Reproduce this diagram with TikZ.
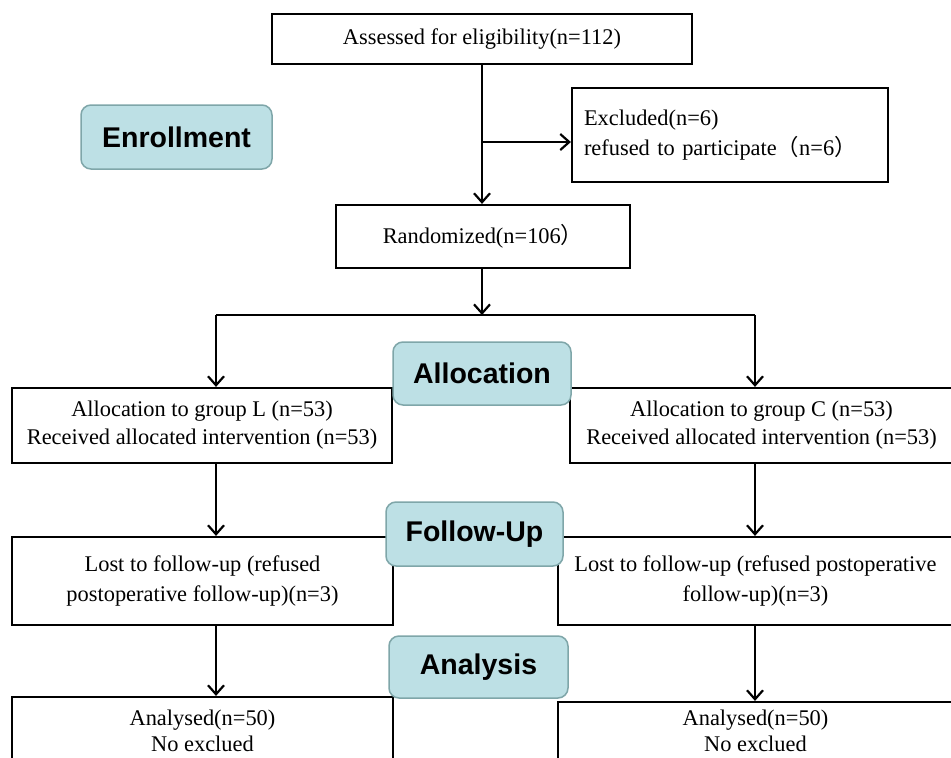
\documentclass[tikz,border=0pt]{standalone}
\usepackage{fontspec}
\setmainfont{Liberation Serif}
\newfontfamily\lsans{Liberation Sans}
\newfontfamily\cjk{Noto Sans CJK SC}
\usetikzlibrary{arrows.meta}
\definecolor{phasefill}{HTML}{BDE0E5}
\definecolor{phaseborder}{HTML}{7FA6A9}
\newcommand{\lp}{{\cjk （}}
\newcommand{\rp}{{\cjk ）}}
\begin{document}
\begin{tikzpicture}[x=1pt,y=-1pt,
  box/.style={draw, line width=2.2pt, inner sep=0pt, align=center,
    font=\fontsize{22.4}{28}\selectfont},
  phase/.style={draw=phaseborder, fill=phasefill, rounded corners=10pt,
    line width=1.5pt, inner sep=0pt,
    font=\lsans\bfseries\fontsize{28.5}{30}\selectfont},
  arr/.style={line width=2.2pt, -{Straight Barb[length=9pt,width=16pt]}},
  ln/.style={line width=2.2pt}]
\useasboundingbox (0,0) rectangle (951,758);
\clip (0,0) rectangle (951,758);
\fill[white] (0,0) rectangle (951,758);

% boxes
\node[box, minimum width=420pt, minimum height=50pt] (assess) at (482,39) {Assessed for eligibility(n=112)};
\node[box, minimum width=316pt, minimum height=94pt, text width=292pt, inner xsep=12pt, align=left,
  font=\fontsize{22.4}{30}\selectfont] (excl) at (730,135)
  {Excluded(n=6)\\refused to participate\lp n=6\rp};
\node[box, minimum width=294pt, minimum height=63pt] (rand) at (483,236.5) {Randomized(n=106\rp};

\node[box, minimum width=380pt, minimum height=75pt] (gL) at (202,425.5)
  {Allocation to group L (n=53)\\Received allocated intervention (n=53)};
\node[box, minimum width=383pt, minimum height=75pt] (gC) at (761.5,425.5)
  {Allocation to group C (n=53)\\Received allocated intervention (n=53)};

\node[box, minimum width=381pt, minimum height=88pt, font=\fontsize{22.4}{30}\selectfont] (lostL) at (202.5,581)
  {Lost to follow-up (refused\\postoperative follow-up)(n=3)};
\node[box, minimum width=395pt, minimum height=88pt, font=\fontsize{22.4}{30}\selectfont] (lostC) at (755.5,581)
  {Lost to follow-up (refused postoperative\\follow-up)(n=3)};

\node[box, minimum width=381pt, minimum height=68pt, font=\fontsize{22.4}{26}\selectfont] (anL) at (202.5,731)
  {Analysed(n=50)\\No exclued};
\node[box, minimum width=395pt, minimum height=58pt, font=\fontsize{22.4}{26}\selectfont] (anC) at (755.5,731)
  {Analysed(n=50)\\No exclued};

% phase labels
\node[phase, minimum width=191pt, minimum height=64pt] (enroll) at (176.5,137) {Enrollment};
\node[phase, minimum width=178pt, minimum height=63pt] (alloc) at (482,373.5) {Allocation};
\node[phase, minimum width=177pt, minimum height=64pt] (follow) at (474.5,534) {Follow-Up};
\node[phase, minimum width=179pt, minimum height=62pt] (analysis) at (478.5,667) {Analysis};

% connectors
\coordinate (branch) at (482,142);
\coordinate (split) at (482,315);
\coordinate (sl) at (216,315);
\coordinate (sr) at (755,315);
\draw[arr] (assess.south -| branch) -- (rand.north -| branch);
\draw[arr] (branch) -- (excl.west |- branch);
\draw[arr] (rand.south -| split) -- (split);
\draw[ln] (sl) -- (sr);
\draw[arr] (sl) -- (gL.north -| sl);
\draw[arr] (sr) -- (gC.north -| sr);
\draw[arr] (gL.south -| sl) -- (lostL.north -| sl);
\draw[arr] (gC.south -| sr) -- (lostC.north -| sr);
\draw[arr] (lostL.south -| sl) -- (anL.north -| sl);
\draw[arr] (lostC.south -| sr) -- (anC.north -| sr);
\end{tikzpicture}
\end{document}
